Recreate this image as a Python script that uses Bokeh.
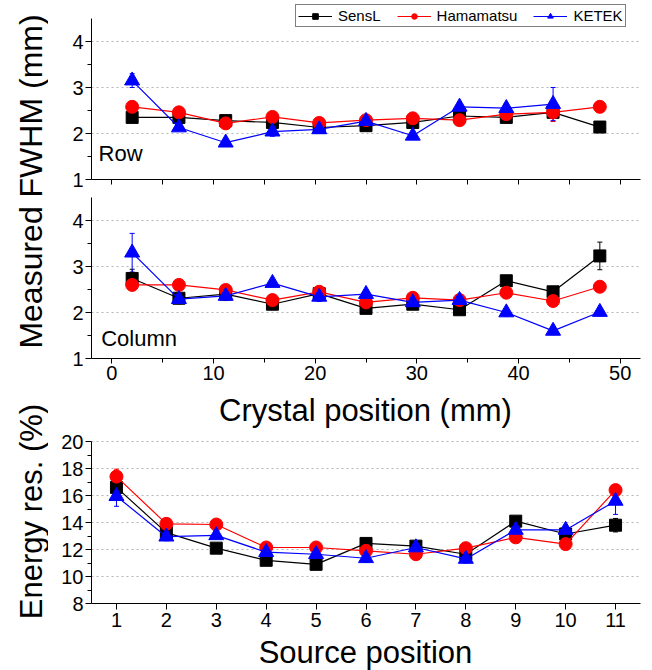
import math
from bokeh.plotting import figure
from bokeh.layouts import row, column
from bokeh.models import (Range1d, Whisker, ColumnDataSource, Label, Legend,
                          LegendItem, FixedTicker, TeeHead, Div)
from bokeh.embed import file_html
from bokeh.resources import INLINE

# ---------------- data ----------------
series = ["SensL", "Hamamatsu", "KETEK"]
colors = ["#000000", "#ff0000", "#0000ff"]
markers = ["square", "circle", "triangle"]

crystal_pos = [2.0, 6.6, 11.2, 15.8, 20.4, 25.0, 29.6, 34.2, 38.8, 43.4, 48.0]

row_sensl = [2.35, 2.35, 2.28, 2.24, 2.13, 2.17, 2.24, 2.38, 2.35, 2.46, 2.14]
row_hama = [2.58, 2.46, 2.22, 2.36, 2.23, 2.29, 2.33, 2.29, 2.42, 2.46, 2.58]
row_ketek = [3.15, 2.13, 1.80, 2.04, 2.09, 2.27, 1.95, 2.58, 2.55, 2.64]
row_sensl_err = [0.05, 0.05, 0.04, 0.05, 0.04, 0.04, 0.04, 0.05, 0.05, 0.10, 0.04]
row_hama_err = [0.05, 0.05, 0.04, 0.05, 0.04, 0.04, 0.04, 0.05, 0.06, 0.20, 0.05]
row_ketek_err = [0.15, 0.06, 0.06, 0.10, 0.08, 0.08, 0.06, 0.10, 0.10, 0.36]

col_sensl = [2.74, 2.31, 2.40, 2.18, 2.41, 2.09, 2.18, 2.06, 2.69, 2.45, 3.23]
col_hama = [2.60, 2.60, 2.49, 2.27, 2.45, 2.22, 2.32, 2.27, 2.43, 2.25, 2.56]
col_ketek = [3.30, 2.29, 2.36, 2.64, 2.34, 2.40, 2.22, 2.27, 2.00, 1.60, 2.01]
col_sensl_err = [0.20, 0.05, 0.05, 0.04, 0.04, 0.04, 0.04, 0.04, 0.05, 0.08, 0.30]
col_hama_err = [0.04, 0.04, 0.04, 0.04, 0.04, 0.04, 0.04, 0.04, 0.04, 0.04, 0.04]
col_ketek_err = [0.42, 0.10, 0.10, 0.06, 0.10, 0.06, 0.06, 0.06, 0.08, 0.08, 0.08]

source_pos = [1, 2, 3, 4, 5, 6, 7, 8, 9, 10, 11]
en_sensl = [16.6, 13.25, 12.1, 11.2, 10.9, 12.45, 12.25, 11.65, 14.1, 13.15, 13.8]
en_hama = [17.4, 13.9, 13.85, 12.15, 12.15, 11.9, 11.65, 12.1, 12.9, 12.4, 16.4]
en_ketek = [15.95, 12.95, 13.05, 11.8, 11.65, 11.35, 12.15, 11.3, 13.45, 13.45, 15.6]
en_sensl_err = [0.4, 0.2, 0.15, 0.15, 0.15, 0.2, 0.2, 0.2, 0.2, 0.2, 0.5]
en_hama_err = [0.55, 0.2, 0.2, 0.2, 0.2, 0.2, 0.2, 0.2, 0.2, 0.2, 0.25]
en_ketek_err = [0.75, 0.3, 0.2, 0.2, 0.2, 0.3, 0.2, 0.3, 0.3, 0.3, 1.0]

fwhm_ticks = [1, 2, 3, 4]
fwhm_minor = [1.5, 2.5, 3.5]
crystal_ticks = [0, 10, 20, 30, 40, 50]
crystal_minor = [5, 15, 25, 35, 45]
crystal_all = [0, 5, 10, 15, 20, 25, 30, 35, 40, 45, 50]
energy_ticks = [8, 10, 12, 14, 16, 18, 20]
energy_minor = [9, 11, 13, 15, 17, 19]

FONT = "Liberation Sans"
TICK_FS = "20px"
TITLE_FS = "31px"

W_MAIN = 600
LEFT = 43
RIGHT = 8
FRAME_W = W_MAIN - LEFT - RIGHT


# ---------------- helpers ----------------
def style(p, yticks, yminor, xticks, xminor, ybounds):
    p.outline_line_color = None
    p.xgrid.grid_line_color = None
    p.ygrid.grid_line_color = "#b4b4b4"
    p.ygrid.grid_line_dash = "2 3"
    p.ygrid.grid_line_width = 1
    p.yaxis.ticker = FixedTicker(ticks=yticks, minor_ticks=yminor)
    p.xaxis.ticker = FixedTicker(ticks=xticks, minor_ticks=xminor)
    p.yaxis.bounds = ybounds
    for ax in (p.xaxis, p.yaxis):
        ax.axis_line_color = "#000000"
        ax.axis_line_width = 1
        ax.major_tick_line_color = "#000000"
        ax.minor_tick_line_color = "#000000"
        ax.major_tick_in = 0
        ax.minor_tick_in = 0
        ax.major_label_text_font = FONT
        ax.major_label_text_font_size = TICK_FS
        ax.major_label_text_color = "#000000"
    p.yaxis.major_tick_out = 6
    p.yaxis.minor_tick_out = 4
    p.yaxis.major_label_standoff = 2
    p.xaxis.major_tick_out = 5
    p.xaxis.minor_tick_out = 4
    p.xaxis.major_label_standoff = 2


def draw(p, x_all, ys, errs):
    items = []
    for name, col, mk, y, e in zip(series, colors, markers, ys, errs):
        x = x_all[:len(y)]
        src = ColumnDataSource(dict(x=x, y=y,
                                    lo=[a - b for a, b in zip(y, e)],
                                    hi=[a + b for a, b in zip(y, e)]))
        w = Whisker(base="x", lower="lo", upper="hi", source=src,
                    line_color=col, line_width=1,
                    lower_head=TeeHead(size=5, line_color=col, line_width=1),
                    upper_head=TeeHead(size=5, line_color=col, line_width=1))
        p.add_layout(w)
        lr = p.line("x", "y", source=src, line_color=col, line_width=1.2)
        size = {"square": 12, "circle": 13, "triangle": 15}[mk]
        sr = p.scatter("x", "y", source=src, marker=mk, size=size,
                       fill_color=col, line_color=col)
        items.append(LegendItem(label=name, renderers=[lr, sr]))
    return items


def title_div(text, height):
    html = (f'<div style="margin-left:{LEFT}px;width:{FRAME_W}px;text-align:center;'
            f'font-family:\'{FONT}\';font-size:{TITLE_FS};line-height:{height}px;'
            f'color:#000000;white-space:nowrap;">{text}</div>')
    return Div(text=html, width=W_MAIN, height=height, margin=0)


# ---------------- top: Row ----------------
p1 = figure(width=W_MAIN, height=191, x_range=Range1d(-2, 52), y_range=Range1d(1, 1 + 179 / 46),
            toolbar_location=None, output_backend="svg",
            min_border_left=LEFT, min_border_right=RIGHT, min_border_top=0, min_border_bottom=12)
style(p1, fwhm_ticks, fwhm_minor, [], crystal_all, (1, 4.5))
p1.xaxis.minor_tick_out = 5
items = draw(p1, crystal_pos, [row_sensl, row_hama, row_ketek],
             [row_sensl_err, row_hama_err, row_ketek_err])
p1.add_layout(Label(x=-1.3, y=1.3, text="Row", text_font=FONT, text_font_size="22px",
                    text_color="#000000"))
leg = Legend(items=items, orientation="horizontal", location=(204, 152),
             glyph_width=34, glyph_height=14, label_height=14, label_standoff=6,
             spacing=16, padding=2, margin=0,
             label_text_font=FONT, label_text_font_size="15px", label_text_color="#000000",
             border_line_color="#000000", border_line_width=1,
             background_fill_color="#ffffff", background_fill_alpha=1)
p1.add_layout(leg)

# ---------------- middle: Column ----------------
p2 = figure(width=W_MAIN, height=200, x_range=Range1d(-2, 52), y_range=Range1d(1, 4.5),
            toolbar_location=None, output_backend="svg",
            min_border_left=LEFT, min_border_right=RIGHT, min_border_top=6, min_border_bottom=33)
style(p2, fwhm_ticks, fwhm_minor, crystal_ticks, crystal_minor, (1, 4.5))
draw(p2, crystal_pos, [col_sensl, col_hama, col_ketek],
     [col_sensl_err, col_hama_err, col_ketek_err])
p2.add_layout(Label(x=-1.05, y=1.16, text="Column", text_font=FONT, text_font_size="22px",
                    text_color="#000000"))

t2 = title_div("Crystal position (mm)", 39)

# ---------------- bottom: Energy resolution ----------------
p3 = figure(width=W_MAIN, height=206, x_range=Range1d(0.5, 11.5), y_range=Range1d(8, 20 + 11 / 13.5),
            toolbar_location=None, output_backend="svg",
            min_border_left=LEFT, min_border_right=RIGHT, min_border_top=0, min_border_bottom=33)
style(p3, energy_ticks, energy_minor, source_pos, [], (8, 20))
p3.xaxis.major_tick_out = 6
p3.xaxis.major_label_standoff = 3
draw(p3, source_pos, [en_sensl, en_hama, en_ketek],
     [en_sensl_err, en_hama_err, en_ketek_err])

t3 = title_div("Source position", 34)

# ---------------- y-axis titles column ----------------
pl = figure(width=48, height=670, x_range=Range1d(0, 48), y_range=Range1d(670, 0),
            toolbar_location=None, output_backend="svg", x_axis_type=None, y_axis_type=None,
            min_border=0)
pl.outline_line_color = None
pl.grid.visible = False
pl.add_layout(Label(x=30, y=181, text="Measured FWHM (mm)", angle=math.pi / 2,
                    text_align="center", text_baseline="middle", text_font=FONT,
                    text_font_size="32px", text_color="#000000"))
pl.add_layout(Label(x=31, y=511, text="Energy res. (%)", angle=math.pi / 2,
                    text_align="center", text_baseline="middle", text_font=FONT,
                    text_font_size="31px", text_color="#000000"))

layout = row(pl, column(p1, p2, t2, p3, t3, spacing=0), spacing=0)

open("out.html", "w").write(file_html(layout, INLINE))
